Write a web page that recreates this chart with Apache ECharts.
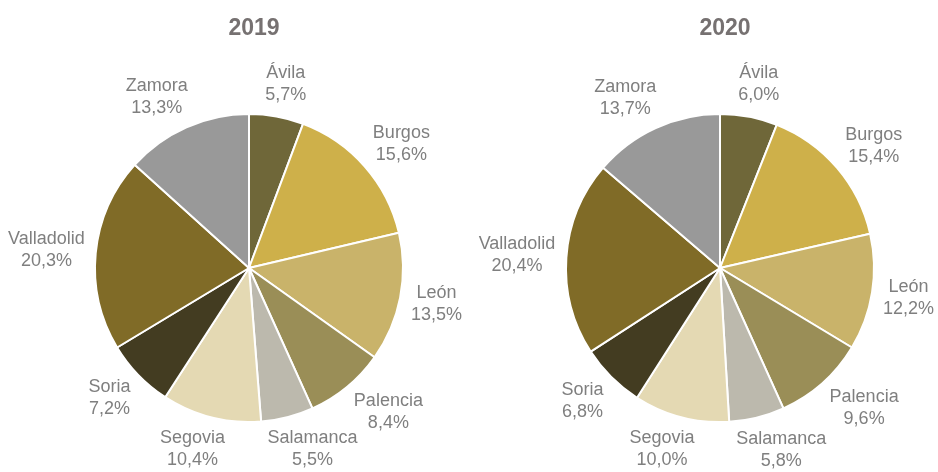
<!DOCTYPE html>
<html>
<head>
<meta charset="utf-8">
<script src="https://cdn.jsdelivr.net/npm/echarts@6/dist/echarts.min.js"></script>
<style>
  html, body { margin: 0; padding: 0; background: #fff; }
  #chart { width: 938px; height: 472px; }
</style>
</head>
<body>
<div id="chart"></div>
<script>
// provinces and shares (%) for each year
var provincias = ['Ávila', 'Burgos', 'León', 'Palencia', 'Salamanca', 'Segovia', 'Soria', 'Valladolid', 'Zamora'];
var valores2019 = [5.7, 15.6, 13.5, 8.4, 5.5, 10.4, 7.2, 20.3, 13.3];
var valores2020 = [6.0, 15.4, 12.2, 9.6, 5.8, 10.0, 6.8, 20.4, 13.7];
var anios = ['2019', '2020'];
var colores = ['#6f6739', '#ceb04a', '#c9b36a', '#9a8e57', '#bcb9ad', '#e4d9b3', '#433c21', '#806b27', '#999999'];

var centros = [[249, 268], [720, 268]];
var radio = 154;
var separacion = 11;

// middle angle of each slice, clockwise from 12 o'clock
function midAngles(vals) {
    var total = vals.reduce(function (a, b) { return a + b; }, 0);
    var acc = 0;
    return vals.map(function (v) {
        var mid = (acc + v / 2) / total * Math.PI * 2;
        acc += v;
        return mid;
    });
}

function sat(t) {
    return Math.max(-1, Math.min(1, t));
}

function makeSeries(vals, idx) {
    var angles = midAngles(vals);
    var c = centros[idx];
    return {
        type: 'pie',
        center: c,
        radius: radio,
        startAngle: 90,
        clockwise: true,
        avoidLabelOverlap: false,
        itemStyle: { borderColor: '#ffffff', borderWidth: 2 },
        label: {
            show: true,
            position: 'outside',
            color: '#7f7f7f',
            fontFamily: 'Liberation Sans, Arial, sans-serif',
            fontSize: 18,
            lineHeight: 22,
            formatter: function (p) {
                return p.name + '\n' + p.value.toFixed(1).replace('.', ',') + '%';
            }
        },
        labelLine: { show: false },
        // put the label box just outside the slice, Excel style
        labelLayout: function (params) {
            var a = angles[params.dataIndex];
            var dx = Math.sin(a), dy = -Math.cos(a);
            var w = params.labelRect.width, h = params.labelRect.height;
            var R = radio + separacion;
            return {
                x: c[0] + dx * R + sat(2 * dx) * w / 2,
                y: c[1] + dy * R + dy * h / 2,
                align: 'center',
                verticalAlign: 'middle'
            };
        },
        emphasis: { disabled: true },
        data: provincias.map(function (n, i) { return { name: n, value: vals[i] }; })
    };
}

var myChart = echarts.init(document.getElementById('chart'));
var option = {
    animation: false,
    color: colores,
    title: anios.map(function (t, i) {
        return {
            text: t,
            left: centros[i][0],
            top: 12,
            textAlign: 'center',
            textStyle: {
                color: '#767171',
                fontFamily: 'Liberation Sans, Arial, sans-serif',
                fontSize: 23,
                fontWeight: 'bold'
            }
        };
    }),
    series: [makeSeries(valores2019, 0), makeSeries(valores2020, 1)]
};
myChart.setOption(option);
</script>
</body>
</html>
